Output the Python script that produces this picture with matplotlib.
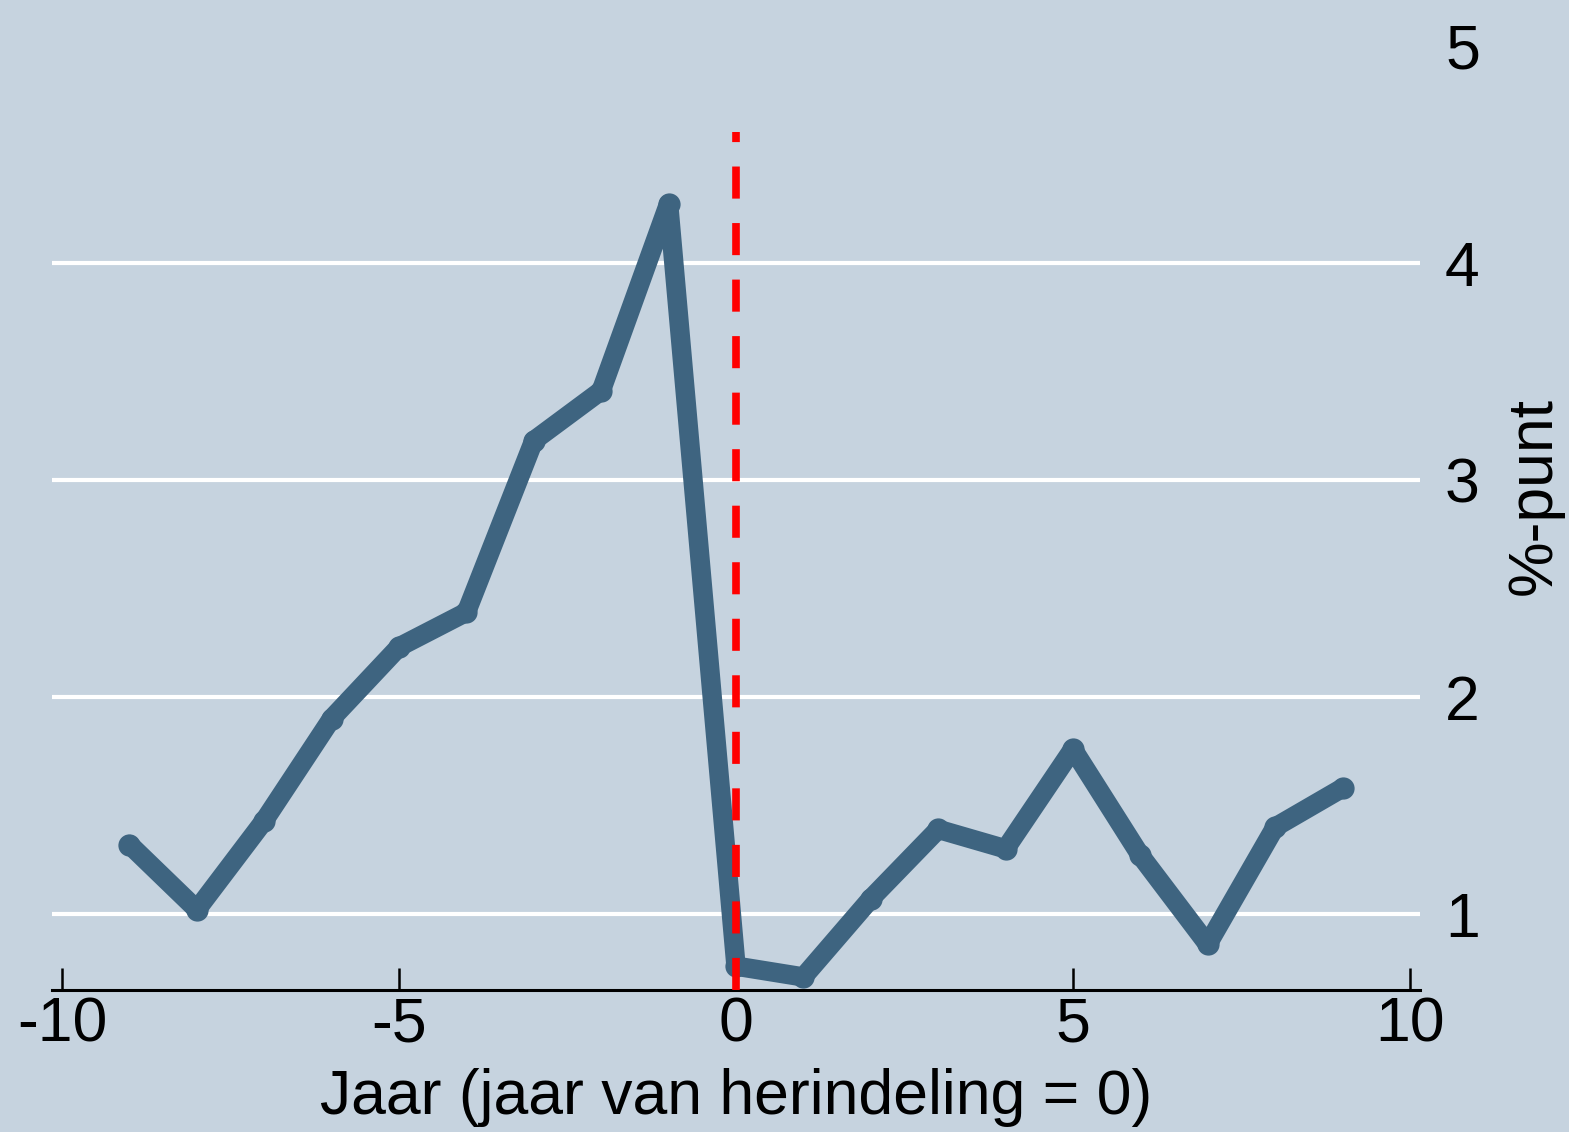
import matplotlib
matplotlib.use("Agg")
import matplotlib.pyplot as plt

plt.rcParams['font.family'] = ['Liberation Sans', 'DejaVu Sans']
plt.rcParams['axes.unicode_minus'] = False

########## data ##########
jaar   = [-9, -8, -7, -6, -5, -4, -3, -2, -1, 0, 1, 2, 3, 4, 5, 6, 7, 8, 9]
punt   = [1.32, 1.02, 1.43, 1.90, 2.23, 2.39, 3.18, 3.41, 4.27,
          0.76, 0.71, 1.07, 1.39, 1.30, 1.76, 1.27, 0.86, 1.40, 1.58]
xticks = [-10, -5, 0, 5, 10]
yticks = [1, 2, 3, 4, 5]
grid_y = [1, 2, 3, 4]
ref_x  = 0
ref_top = 4.6

bg    = '#C6D3DF'
blue  = '#3E6480'

########## figure ##########
fig = plt.figure(figsize=(15.69, 11.32), dpi=100, facecolor=bg)
ax = fig.add_axes([52/1569, 142/1132, 1368/1569, 988/1132])
ax.set_facecolor(bg)

ax.set_xlim(-10.15, 10.15)
ax.set_ylim(0.65, 5.2)

for g in grid_y:
    ax.axhline(g, color='white', lw=3, zorder=1)

ax.plot(jaar, punt, color=blue, lw=14, solid_joinstyle='round',
        solid_capstyle='round', marker='o', ms=15, zorder=3)

ax.vlines(ref_x, 0.65, ref_top, color='red', lw=5.5,
          linestyles=(0, (4.2, 3.2)), zorder=4)

for s in ['top', 'left', 'right']:
    ax.spines[s].set_visible(False)
ax.spines['bottom'].set_linewidth(2.2)

ax.set_xticks(xticks)
ax.tick_params(axis='x', direction='in', length=16, width=1.8,
               labelsize=45, pad=4)
ax.yaxis.tick_right()
ax.set_yticks(yticks)
ax.tick_params(axis='y', length=0, labelsize=45, pad=18)
ax.yaxis.set_label_position('right')
ax.set_ylabel('%-punt', fontsize=45, labelpad=18)
ax.set_xlabel('Jaar (jaar van herindeling = 0)', fontsize=45, labelpad=10)

fig.savefig('out.png', dpi=100, facecolor=bg)
